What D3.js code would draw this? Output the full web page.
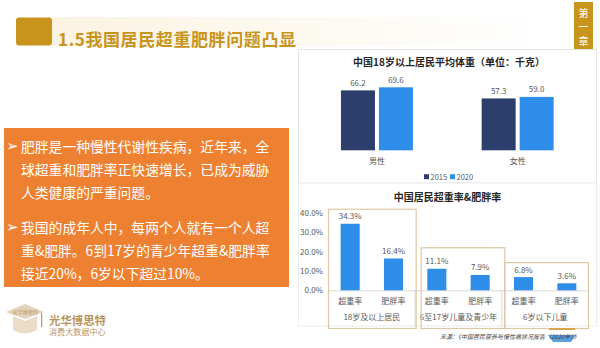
<!DOCTYPE html>
<html>
<head>
<meta charset="utf-8">
<script src="https://cdn.jsdelivr.net/npm/d3@7"></script>
<style>
  body { margin: 0; background: #fff; }
  svg { display: block; font-family: "Noto Sans CJK SC", "Noto Sans", sans-serif; }
</style>
</head>
<body>
<div id="page"></div>
<script>

// Data
var weightCats = [ '男性', '女性' ];
var weightYears = [ '2015', '2020' ];
var weight2015 = [ 66.2, 57.3 ];
var weight2020 = [ 69.6, 59.0 ];

var rateGroups = [ '18岁及以上居民', '6至17岁儿童及青少年', '6岁以下儿童' ];
var rateKinds = [ '超重率', '肥胖率' ];
var overweight = [ 34.3, 11.1, 6.8 ];
var obesity = [ 16.4, 7.9, 3.6 ];
var rateTicks = [ 0, 10, 20, 30, 40 ];

var bullets = [
    [ '肥胖是一种慢性代谢性疾病，近年来，全', '球超重和肥胖率正快速增长，已成为威胁', '人类健康的严重问题。' ],
    [ '我国的成年人中，每两个人就有一个人超', '重&肥胖。6到17岁的青少年超重&肥胖率', '接近20%，6岁以下超过10%。' ]
];

var gold = '#c8941c';
var navy = '#2c3f6c';
var blue = '#2e8de8';
var grey = '#595959';

var svg = d3.select( '#page' ).append( 'svg' )
            .attr( 'width', 600 )
            .attr( 'height', 348 );

var defs = svg.append( 'defs' );
var grad = defs.append( 'linearGradient' ).attr( 'id', 'band' );
grad.append( 'stop' ).attr( 'offset', '0%' ).attr( 'stop-color', '#fbf3e2' );
grad.append( 'stop' ).attr( 'offset', '100%' ).attr( 'stop-color', '#ffffff' );

// Header
svg.append( 'rect' ).attr( 'x', 52 ).attr( 'y', 18 ).attr( 'width', 490 ).attr( 'height', 28 )
    .attr( 'fill', 'url(#band)' );
svg.append( 'rect' ).attr( 'x', 52 ).attr( 'y', 17 ).attr( 'width', 490 ).attr( 'height', 1.5 )
    .attr( 'fill', 'url(#band)' ).attr( 'opacity', 0.9 );
svg.append( 'rect' ).attr( 'x', 16 ).attr( 'y', 17.5 ).attr( 'width', 36 ).attr( 'height', 28 )
    .attr( 'rx', 3 ).attr( 'fill', gold );
svg.append( 'text' ).attr( 'x', 58 ).attr( 'y', 38.5 )
    .attr( 'dominant-baseline', 'central' )
    .style( 'font-size', '17px' ).style( 'font-weight', 'bold' ).style( 'letter-spacing', '0.6px' )
    .attr( 'fill', gold ).text( '1.5我国居民超重肥胖问题凸显' );

// Chapter tab
svg.append( 'rect' ).attr( 'x', 574 ).attr( 'y', 2 ).attr( 'width', 19 ).attr( 'height', 48 )
    .attr( 'fill', gold );
svg.selectAll( '.tab' ).data( [ '第', '一', '章' ] ).enter()
    .append( 'text' ).attr( 'class', 'tab' )
    .attr( 'x', 583.5 ).attr( 'y', function ( d, i ) { return 12 + i * 14; } )
    .attr( 'text-anchor', 'middle' ).attr( 'dominant-baseline', 'central' )
    .style( 'font-size', '10px' ).attr( 'fill', '#fff' ).text( function ( d ) { return d; } );

// Orange text box
svg.append( 'rect' ).attr( 'x', 4 ).attr( 'y', 128 ).attr( 'width', 285 ).attr( 'height', 159 )
    .attr( 'fill', '#ee8131' );

bullets.forEach( function ( lines, p ) {
    var y0 = 146 + p * 80.5;
    svg.append( 'text' ).attr( 'x', 6 ).attr( 'y', y0 )
        .attr( 'dominant-baseline', 'central' )
        .style( 'font-family', 'DejaVu Sans' ).style( 'font-size', '15px' )
        .attr( 'fill', '#fff' ).text( '➢' );
    svg.selectAll( '.p' + p ).data( lines ).enter()
        .append( 'text' ).attr( 'class', 'p' + p )
        .attr( 'x', 21 ).attr( 'y', function ( d, i ) { return y0 + i * 23; } )
        .attr( 'dominant-baseline', 'central' )
        .style( 'font-size', '13.8px' )
        .attr( 'fill', '#fff' ).text( function ( d ) { return d; } );
} );

// Logo
var logo = svg.append( 'g' ).attr( 'fill', '#b89360' );
logo.append( 'path' ).attr( 'd', 'M6,312 L25,304 L44,312 L25,319 Z' ).attr( 'fill', '#e4d3b8' );
logo.append( 'path' ).attr( 'd', 'M13,316 L13,330 Q25,337 37,330 L37,316 L25,321 Z' ).attr( 'fill', '#eadcc6' );
logo.append( 'rect' ).attr( 'x', 41 ).attr( 'y', 313 ).attr( 'width', 1.2 ).attr( 'height', 14 );
logo.append( 'text' ).attr( 'x', 25 ).attr( 'y', 311.5 ).attr( 'text-anchor', 'middle' )
    .attr( 'dominant-baseline', 'central' ).style( 'font-size', '5px' ).text( '光华博思特' );
logo.append( 'text' ).attr( 'x', 49 ).attr( 'y', 319.5 ).attr( 'dominant-baseline', 'central' )
    .style( 'font-size', '11.4px' ).style( 'font-weight', 'bold' ).text( '光华博思特' );
logo.append( 'text' ).attr( 'x', 49 ).attr( 'y', 331.7 ).attr( 'dominant-baseline', 'central' )
    .style( 'font-size', '8px' ).style( 'letter-spacing', '0.1px' ).text( '消费大数据中心' );

// Panels
svg.append( 'rect' ).attr( 'x', 298.5 ).attr( 'y', 49.5 ).attr( 'width', 298 ).attr( 'height', 133.5 )
    .attr( 'fill', '#fff' ).attr( 'stroke', '#e3e3e3' );
svg.append( 'rect' ).attr( 'x', 298.5 ).attr( 'y', 183 ).attr( 'width', 298 ).attr( 'height', 143 )
    .attr( 'fill', '#fff' ).attr( 'stroke', '#ececec' );

// ---- Top chart: average weight ----
var wChart = svg.append( 'g' );

var x0 = d3.scaleBand().domain( weightCats ).range( [ 306.6, 588 ] );
var x1 = d3.scaleBand().domain( weightYears )
           .range( [ x0.bandwidth() / 2 - 36, x0.bandwidth() / 2 + 36 ] )
           .paddingInner( 0.105 );
var yW = d3.scaleLinear().domain( [ 0, 80 ] ).range( [ 150.3, 77.9 ] );
var colW = d3.scaleOrdinal().domain( weightYears ).range( [ navy, blue ] );

wChart.append( 'text' ).attr( 'x', 449 ).attr( 'y', 61 )
    .attr( 'text-anchor', 'middle' ).attr( 'dominant-baseline', 'central' )
    .style( 'font-size', '10px' ).style( 'font-weight', 'bold' ).attr( 'fill', '#262626' )
    .text( '中国18岁以上居民平均体重（单位：千克）' );

var wData = [];
weightCats.forEach( function ( c, i ) {
    wData.push( { cat: c, year: '2015', v: weight2015[i] } );
    wData.push( { cat: c, year: '2020', v: weight2020[i] } );
} );

wChart.selectAll( '.wbar' ).data( wData ).enter()
    .append( 'rect' ).attr( 'class', 'wbar' )
    .attr( 'x', function ( d ) { return x0( d.cat ) + x1( d.year ); } )
    .attr( 'y', function ( d ) { return yW( d.v ); } )
    .attr( 'width', x1.bandwidth() )
    .attr( 'height', function ( d ) { return yW( 0 ) - yW( d.v ); } )
    .attr( 'fill', function ( d ) { return colW( d.year ); } );

wChart.selectAll( '.wlab' ).data( wData ).enter()
    .append( 'text' ).attr( 'class', 'wlab' )
    .attr( 'x', function ( d ) { return x0( d.cat ) + x1( d.year ) + x1.bandwidth() / 2; } )
    .attr( 'y', function ( d ) { return yW( d.v ) - 8; } )
    .attr( 'text-anchor', 'middle' ).attr( 'dominant-baseline', 'central' )
    .style( 'font-size', '8px' ).attr( 'fill', grey )
    .text( function ( d ) { return d.v.toFixed( 1 ); } );

wChart.append( 'g' )
    .attr( 'transform', 'translate(0,' + yW( 0 ) + ')' )
    .call( d3.axisBottom( x0 ).tickSize( 0 ).tickPadding( 8 ) )
    .call( function ( g ) { g.select( '.domain' ).remove(); } )
    .selectAll( 'text' )
    .style( 'font-family', '"Noto Sans CJK SC"' ).style( 'font-size', '8px' ).attr( 'fill', grey );

var legend = wChart.selectAll( '.legend' ).data( weightYears ).enter()
    .append( 'g' ).attr( 'class', 'legend' )
    .attr( 'transform', function ( d, i ) { return 'translate(' + ( 424 + i * 26 ) + ',176.7)'; } );
legend.append( 'rect' ).attr( 'x', 0 ).attr( 'y', -2.5 ).attr( 'width', 5 ).attr( 'height', 5 )
    .attr( 'fill', function ( d ) { return colW( d ); } );
legend.append( 'text' ).attr( 'x', 6.5 ).attr( 'y', 0 ).attr( 'dominant-baseline', 'central' )
    .style( 'font-size', '7.5px' ).attr( 'fill', grey ).text( function ( d ) { return d; } );

// ---- Bottom chart: overweight & obesity ----
var rChart = svg.append( 'g' );

var rData = [];
rateGroups.forEach( function ( g, i ) {
    rData.push( { group: g, kind: rateKinds[0], key: i + '-0', v: overweight[i] } );
    rData.push( { group: g, kind: rateKinds[1], key: i + '-1', v: obesity[i] } );
} );

var xR = d3.scaleBand().domain( rData.map( function ( d ) { return d.key; } ) )
           .range( [ 328.5, 588.5 ] ).paddingInner( 0.56 ).paddingOuter( 0.28 );
var yR = d3.scaleLinear().domain( [ 0, 40 ] ).range( [ 290.3, 212.7 ] );

rChart.append( 'text' ).attr( 'x', 447.5 ).attr( 'y', 196.7 )
    .attr( 'text-anchor', 'middle' ).attr( 'dominant-baseline', 'central' )
    .style( 'font-size', '10px' ).style( 'font-weight', 'bold' ).attr( 'fill', '#262626' )
    .text( '中国居民超重率&肥胖率' );

rChart.append( 'g' )
    .attr( 'transform', 'translate(325,0)' )
    .call( d3.axisLeft( yR ).tickValues( rateTicks ).tickSize( 0 ).tickPadding( 2 )
             .tickFormat( function ( d ) { return d.toFixed( 1 ) + '%'; } ) )
    .call( function ( g ) { g.select( '.domain' ).remove(); } )
    .selectAll( 'text' )
    .style( 'font-family', '"Noto Sans CJK SC"' ).style( 'font-size', '8px' ).attr( 'fill', grey );

// baseline and group separators
rChart.append( 'line' ).attr( 'x1', 328.5 ).attr( 'x2', 588.5 )
    .attr( 'y1', yR( 0 ) + 0.5 ).attr( 'y2', yR( 0 ) + 0.5 ).attr( 'stroke', '#d9d9d9' );
var step = xR.step();
var seps = [ 0, 1, 2, 3 ].map( function ( i ) { return 328.5 + i * 2 * step; } );
rChart.selectAll( '.sep' ).data( seps ).enter()
    .append( 'line' ).attr( 'class', 'sep' )
    .attr( 'x1', function ( d ) { return d; } ).attr( 'x2', function ( d ) { return d; } )
    .attr( 'y1', yR( 0 ) ).attr( 'y2', 327 ).attr( 'stroke', '#d9d9d9' );

rChart.selectAll( '.rbar' ).data( rData ).enter()
    .append( 'rect' ).attr( 'class', 'rbar' )
    .attr( 'x', function ( d ) { return xR( d.key ); } )
    .attr( 'y', function ( d ) { return yR( d.v ); } )
    .attr( 'width', xR.bandwidth() )
    .attr( 'height', function ( d ) { return yR( 0 ) - yR( d.v ); } )
    .attr( 'fill', blue );

rChart.selectAll( '.rlab' ).data( rData ).enter()
    .append( 'text' ).attr( 'class', 'rlab' )
    .attr( 'x', function ( d ) { return xR( d.key ) + xR.bandwidth() / 2; } )
    .attr( 'y', function ( d ) { return yR( d.v ) - 8; } )
    .attr( 'text-anchor', 'middle' ).attr( 'dominant-baseline', 'central' )
    .style( 'font-size', '8px' ).attr( 'fill', grey )
    .text( function ( d ) { return d.v.toFixed( 1 ) + '%'; } );

rChart.selectAll( '.kind' ).data( rData ).enter()
    .append( 'text' ).attr( 'class', 'kind' )
    .attr( 'x', function ( d ) { return xR( d.key ) + xR.bandwidth() / 2; } )
    .attr( 'y', 300.7 )
    .attr( 'text-anchor', 'middle' ).attr( 'dominant-baseline', 'central' )
    .style( 'font-size', '8px' ).attr( 'fill', grey )
    .text( function ( d ) { return d.kind; } );

rChart.selectAll( '.grp' ).data( rateGroups ).enter()
    .append( 'text' ).attr( 'class', 'grp' )
    .attr( 'x', function ( d, i ) { return 328.5 + ( i * 2 + 1 ) * step; } )
    .attr( 'y', 316.7 )
    .attr( 'text-anchor', 'middle' ).attr( 'dominant-baseline', 'central' )
    .style( 'font-size', '8px' ).attr( 'fill', grey )
    .text( function ( d ) { return d; } );

// tan highlight boxes round each group
var boxInset = [ 0, 6, 3 ];
var boxTrim = [ 1, 3, 0 ];
rChart.selectAll( '.gbox' ).data( rateGroups ).enter()
    .append( 'rect' ).attr( 'class', 'gbox' )
    .attr( 'x', function ( d, i ) { return 328.5 + i * 2 * step + boxInset[i]; } )
    .attr( 'y', function ( d, i ) { return yR( Math.max( overweight[i], obesity[i] ) ) - ( i == 1 ? 21 : 14.5 ); } )
    .attr( 'width', function ( d, i ) { return 2 * step - boxInset[i] + boxTrim[i]; } )
    .attr( 'height', function ( d, i ) { return 328.5 - yR( Math.max( overweight[i], obesity[i] ) ) + ( i == 1 ? 21 : 14.5 ); } )
    .attr( 'fill', 'none' ).attr( 'stroke', '#dcc9a3' ).attr( 'stroke-width', 1.2 );

// little conference mark over the source
var mark = svg.append( 'g' );
mark.append( 'path' ).attr( 'd', 'M548,335 L576,335 L571,342 L553,342 Z' ).attr( 'fill', '#3f8fd6' ).attr( 'opacity', 0.85 );
mark.append( 'rect' ).attr( 'x', 549 ).attr( 'y', 328 ).attr( 'width', 26 ).attr( 'height', 2 ).attr( 'fill', '#d8a34a' );

// Source note
svg.append( 'text' ).attr( 'x', 440 ).attr( 'y', 336 )
    .attr( 'dominant-baseline', 'central' )
    .style( 'font-size', '6px' ).style( 'font-style', 'italic' )
    .attr( 'fill', '#404040' )
    .text( '来源：《中国居民营养与慢性病状况报告（2020年）》' );

</script>
</body>
</html>
